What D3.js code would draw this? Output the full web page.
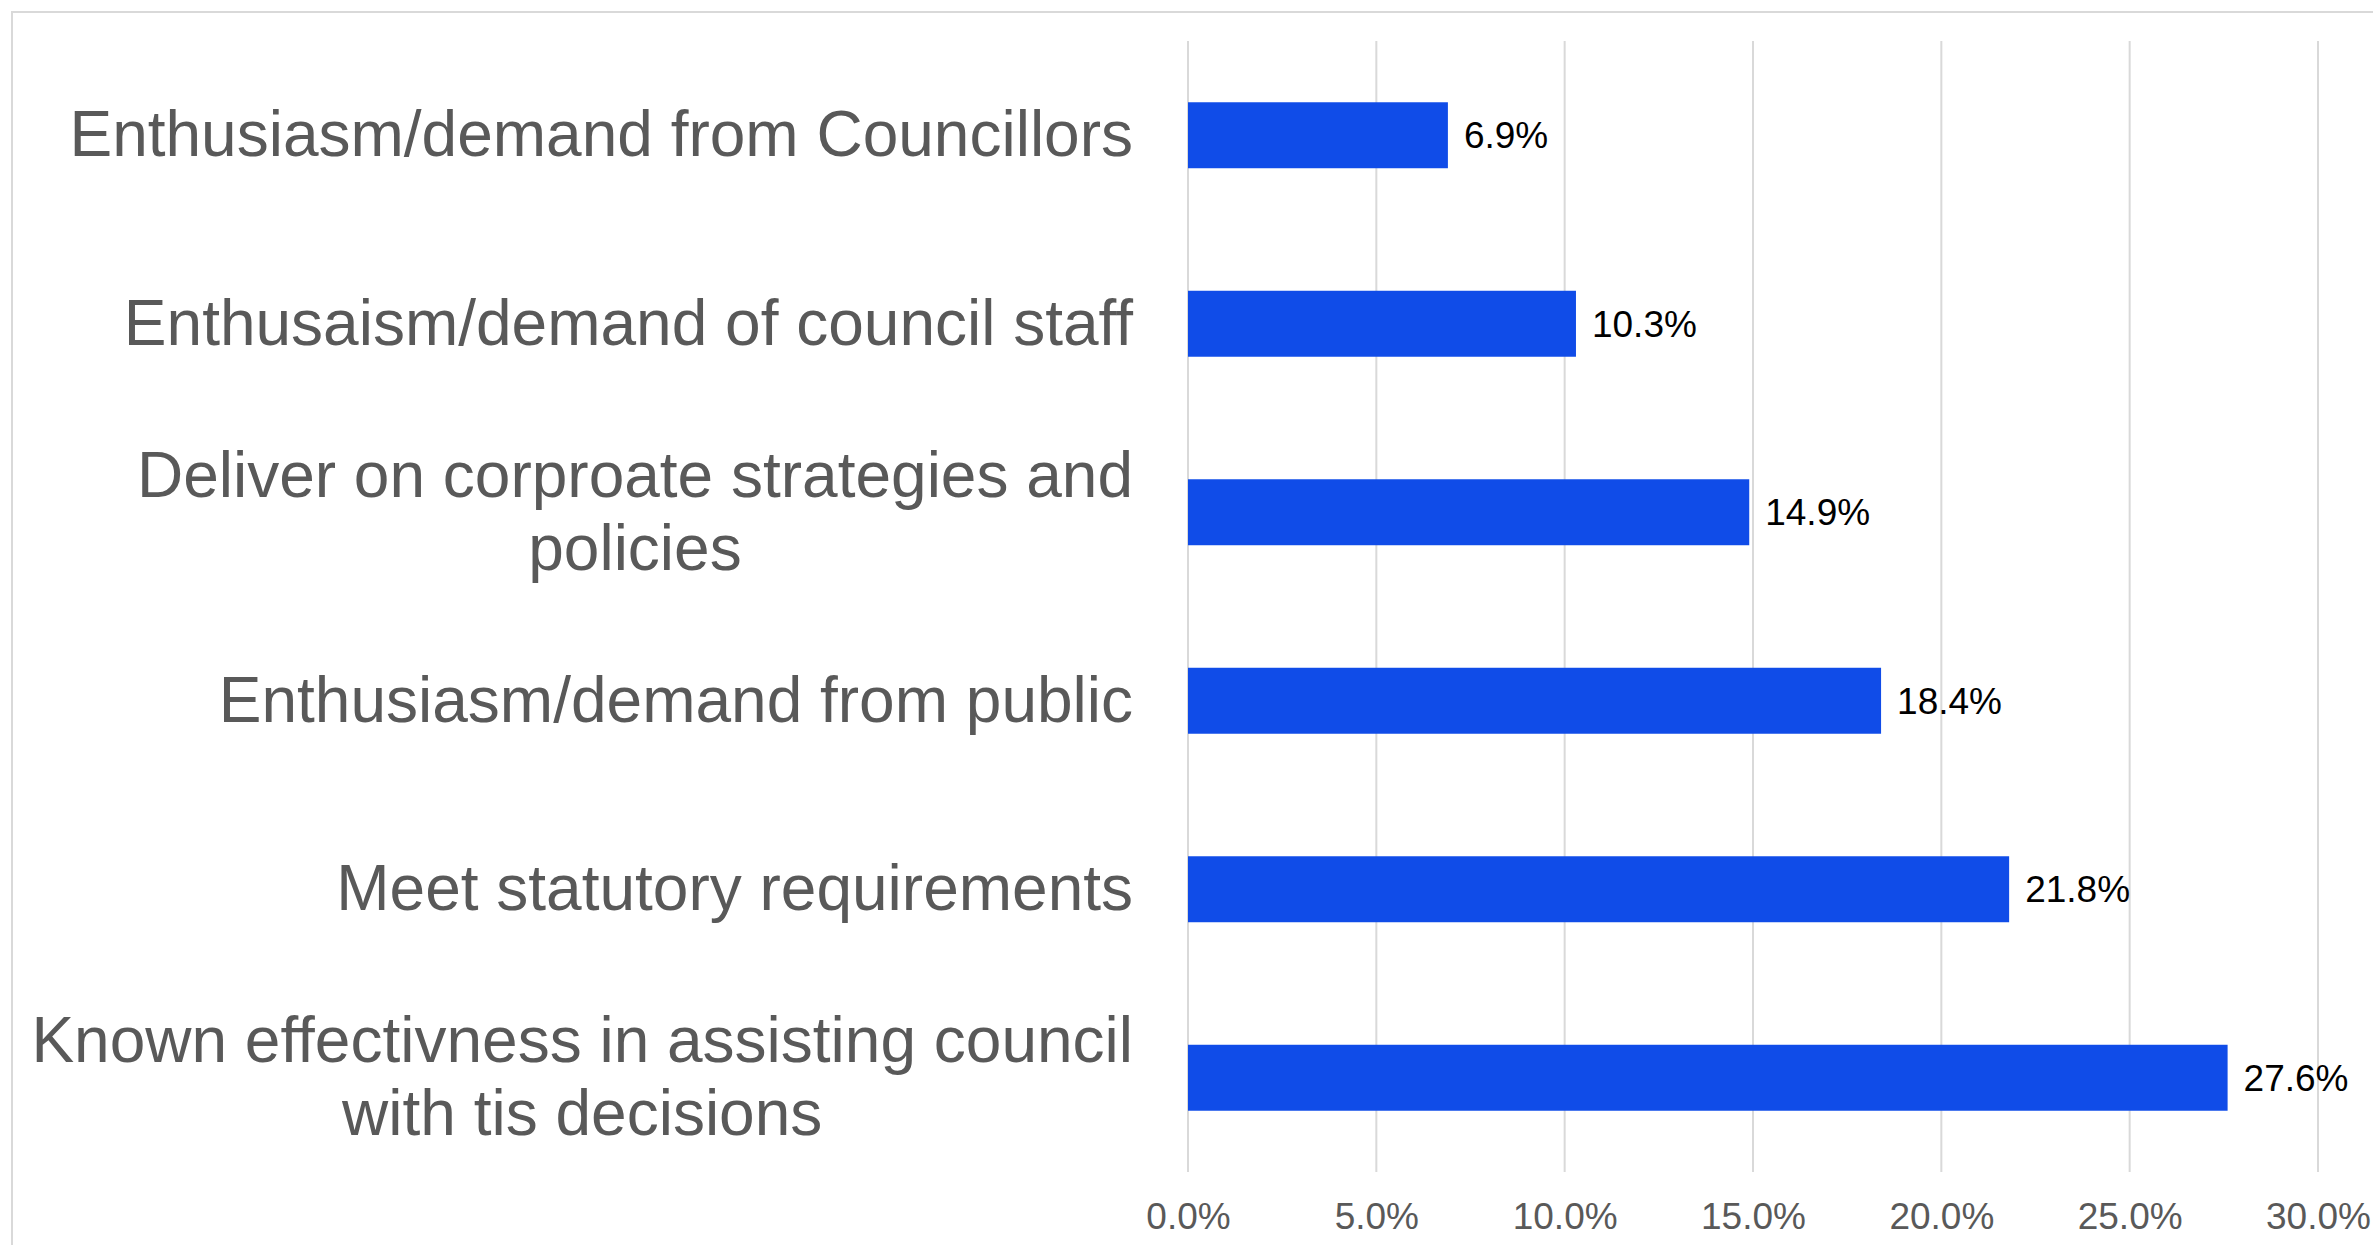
<!DOCTYPE html>
<html>
<head>
<meta charset="utf-8">
<script src="https://cdn.jsdelivr.net/npm/d3@7"></script>
<style>
  html, body { margin: 0; padding: 0; background: #ffffff; }
  svg { display: block; }
</style>
</head>
<body>
<svg id="chart" width="2373" height="1245"></svg>
<script>
// Reasons for adopting the approach, share of responses
const categories = [
  "Enthusiasm/demand from Councillors",
  "Enthusaism/demand of council staff",
  "Deliver on corproate strategies and policies",
  "Enthusiasm/demand from public",
  "Meet statutory requirements",
  "Known effectivness in assisting council with tis decisions"
];
const values = [6.9, 10.3, 14.9, 18.4, 21.8, 27.6];
const tickValues = [0, 5, 10, 15, 20, 25, 30];

const W = 2373, H = 1245;
const plot = { left: 1188, right: 2318, top: 41, bottom: 1172 };
const labelRight = 1133;
const labelMaxWidth = 1125;
const font = "'Liberation Sans', Arial, Helvetica, sans-serif";

const svg = d3.select("#chart");

// outer frame (runs off the right and bottom edges)
svg.append("rect")
  .attr("x", 12).attr("y", 12)
  .attr("width", W).attr("height", H)
  .attr("fill", "#ffffff")
  .attr("stroke", "#d9d9d9")
  .attr("stroke-width", 2);

const x = d3.scaleLinear().domain([0, 30]).range([plot.left, plot.right]);
const y = d3.scaleBand().domain(categories)
  .range([plot.top, plot.bottom])
  .paddingInner(0.65).paddingOuter(0.325);

// vertical gridlines
svg.append("g").selectAll("line")
  .data(tickValues)
  .join("line")
  .attr("x1", d => x(d)).attr("x2", d => x(d))
  .attr("y1", plot.top).attr("y2", plot.bottom)
  .attr("stroke", "#d9d9d9")
  .attr("stroke-width", 2);

// x axis tick labels
const xAxis = d3.axisBottom(x)
  .tickValues(tickValues)
  .tickSize(0)
  .tickPadding(0)
  .tickFormat(d => d.toFixed(1) + "%");
const gx = svg.append("g")
  .attr("transform", `translate(0,${plot.bottom})`)
  .call(xAxis);
gx.select(".domain").remove();
gx.selectAll("text")
  .attr("y", 57).attr("dy", null)
  .attr("fill", "#595959")
  .style("font-family", font)
  .style("font-size", "37px");

// bars
svg.append("g").selectAll("rect")
  .data(categories)
  .join("rect")
  .attr("x", x(0))
  .attr("y", d => y(d))
  .attr("width", (d, i) => x(values[i]) - x(0))
  .attr("height", y.bandwidth())
  .attr("fill", "#104ce8");

// value labels
svg.append("g").selectAll("text")
  .data(categories)
  .join("text")
  .attr("x", (d, i) => x(values[i]) + 16)
  .attr("y", d => y(d) + y.bandwidth() / 2 + 13)
  .attr("fill", "#000000")
  .style("font-family", font)
  .style("font-size", "37px")
  .text((d, i) => values[i].toFixed(1) + "%");

// category labels, wrapped and centred as a block against the axis
const lineHeight = 72.6;
const labels = svg.append("g");
categories.forEach(cat => {
  const t = labels.append("text")
    .attr("fill", "#595959")
    .style("font-family", font)
    .style("font-size", "64px")
    .attr("text-anchor", "middle");
  const words = cat.split(" ");
  const lines = [];
  let cur = [];
  const probe = t.append("tspan");
  words.forEach(w => {
    const trial = cur.concat([w]).join(" ");
    probe.text(trial);
    if (probe.node().getComputedTextLength() > labelMaxWidth && cur.length) {
      lines.push(cur.join(" "));
      cur = [w];
    } else {
      cur.push(w);
    }
  });
  lines.push(cur.join(" "));
  let maxW = 0;
  lines.forEach(l => {
    probe.text(l);
    maxW = Math.max(maxW, probe.node().getComputedTextLength());
  });
  probe.remove();
  const cx = labelRight - maxW / 2;
  const cy = y(cat) + y.bandwidth() / 2;
  lines.forEach((l, i) => {
    t.append("tspan")
      .attr("x", cx)
      .attr("y", cy + 21 + (i - (lines.length - 1) / 2) * lineHeight)
      .text(l);
  });
});
</script>
</body>
</html>
